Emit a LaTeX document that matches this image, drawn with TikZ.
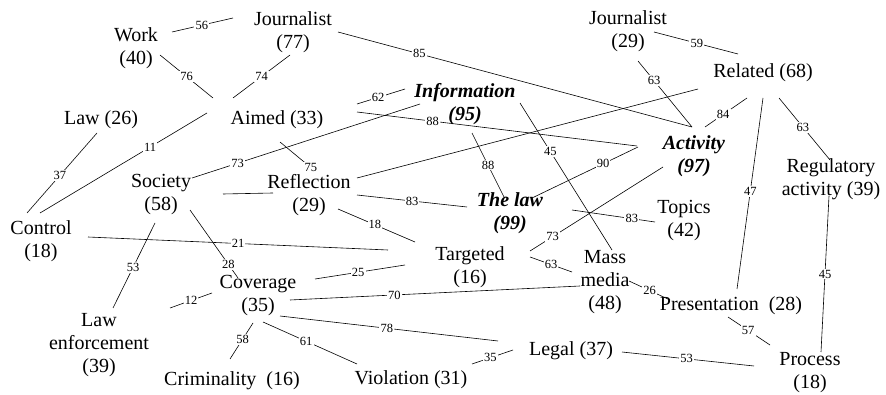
\documentclass[tikz,border=0pt]{standalone}
\usepackage{fontspec}
\setmainfont{Liberation Serif}
\usetikzlibrary{calc}
\tikzset{
  term/.style={font=\fontsize{20}{23}\selectfont, align=center, inner sep=0pt},
  hot/.style={term, font=\fontsize{20}{23}\selectfont\bfseries\itshape},
  lbl/.style={font=\fontsize{12.5}{13}\selectfont, fill=white, inner sep=1.2pt},
  link/.style={line width=0.6pt}
}
\begin{document}
\begin{tikzpicture}[x=1pt,y=-1pt]
\useasboundingbox (0,0) rectangle (886,395);
% nodes
\node[term] (work) at (136,48) {Work\\(40)};
\node[term] (jour77) at (293,32) {Journalist\\(77)};
\node[term] (law26) at (101,120) {Law (26)};
\node[term] (aimed) at (277,120) {Aimed (33)};
\node[hot] (info) at (465,104) {Information\\(95)};
\node[term] (jour29) at (628,31) {Journalist\\(29)};
\node[term] (related) at (763,73) {Related (68)};
\node[hot] (activity) at (694,156) {Activity\\(97)};
\node[term] (regul) at (831,179) {Regulatory\\activity (39)};
\node[term] (society) at (161,195) {Society\\(58)};
\node[term] (reflection) at (309,195) {Reflection\\(29)};
\node[hot] (thelaw) at (510,213) {The law\\(99)};
\node[term] (topics) at (684,221) {Topics\\(42)};
\node[term] (control) at (41,241) {Control\\(18)};
\node[term] (targeted) at (470,267) {Targeted\\(16)};
\node[term] (mass) at (605,282) {Mass\\media\\(48)};
\node[term] (coverage) at (258,296) {Coverage\\(35)};
\node[term] (present) at (731,306) {Presentation\ \ (28)};
\node[term] (lawenf) at (99,345) {Law\\enforcement\\(39)};
\node[term] (crimin) at (232,381) {Criminality\ \ (16)};
\node[term] (violation) at (411,380) {Violation (31)};
\node[term] (legal) at (571,351) {Legal (37)};
\node[term] (process) at (810,373) {Process\\(18)};
% connectors
\draw[link] ($(work)+(36,-16)$) -- node[lbl,pos=.49]{56} ($(jour77)+(-60,-14)$);
\draw[link] ($(work)+(24,7)$) -- node[lbl,pos=.5]{76} ($(aimed)+(-64,-22)$);
\draw[link] ($(jour77)+(-3,23)$) -- node[lbl,pos=.5]{74} ($(aimed)+(-44,-22)$);
\draw[link] ($(jour77)+(45,0)$) -- node[lbl,pos=.23]{85} ($(activity)+(-2,-29)$);
\draw[link] ($(aimed)+(80,-16)$) -- node[lbl,pos=.44]{62} ($(info)+(-60,-15)$);
\draw[link] ($(aimed)+(80,-8)$) -- node[lbl,pos=.27]{88} ($(activity)+(-57,-10)$);
\draw[link] ($(society)+(31,-17)$) -- node[lbl,pos=.2]{73} ($(info)+(-45,0)$);
\draw[link] ($(aimed)+(3,22)$) -- node[lbl,pos=.88]{75} ($(reflection)+(6,-24)$);
\draw[link] ($(law26)+(-4,13)$) -- node[lbl,pos=.53]{37} ($(control)+(-14,-28)$);
\draw[link] ($(aimed)+(-70,-7)$) -- node[lbl,pos=.34]{11} ($(control)+(-1,-28)$);
\draw[link] ($(society)+(62,-1)$) -- ($(reflection)+(-36,-2)$);
\draw[link] ($(reflection)+(48,-17)$) -- ($(related)+(-65,16)$);
\draw[link] ($(reflection)+(48,0)$) -- node[lbl,pos=.5]{83} ($(thelaw)+(-43,-6)$);
\draw[link] ($(reflection)+(29,14)$) -- node[lbl,pos=.48]{18} ($(targeted)+(-55,-25)$);
\draw[link] ($(info)+(7,29)$) -- node[lbl,pos=.5]{88} ($(thelaw)+(-6,-16)$);
\draw[link] ($(info)+(55,-1)$) -- node[lbl,pos=.33]{45} ($(mass)+(7,-32)$);
\draw[link] ($(thelaw)+(22,-15)$) -- node[lbl,pos=.67]{90} ($(activity)+(-56,-9)$);
\draw[link] ($(control)+(47,-4)$) -- node[lbl,pos=.5]{21} ($(targeted)+(-82,-17)$);
\draw[link] ($(society)+(-6,28)$) -- node[lbl,pos=.52]{53} ($(lawenf)+(14,-37)$);
\draw[link] ($(society)+(29,15)$) -- node[lbl,pos=.8]{28} ($(coverage)+(-20,-18)$);
\draw[link] ($(targeted)+(-65,-2)$) -- node[lbl,pos=.52]{25} ($(coverage)+(57,-17)$);
\draw[link] ($(coverage)+(-46,-3)$) -- node[lbl,pos=.5]{12} ($(lawenf)+(71,-37)$);
\draw[link] ($(coverage)+(32,4)$) -- node[lbl,pos=.36]{70} ($(mass)+(-25,4)$);
\draw[link] ($(coverage)+(22,20)$) -- node[lbl,pos=.49]{78} ($(legal)+(-73,-10)$);
\draw[link] ($(coverage)+(-5,27)$) -- node[lbl,pos=.45]{58} ($(crimin)+(-2,-22)$);
\draw[link] ($(coverage)+(5,26)$) -- node[lbl,pos=.46]{61} ($(violation)+(-54,-16)$);
\draw[link] ($(violation)+(61,-16)$) -- node[lbl,pos=.45]{35} ($(legal)+(-58,-1)$);
\draw[link] ($(legal)+(51,1)$) -- node[lbl,pos=.49]{53} ($(process)+(-56,-7)$);
\draw[link] ($(targeted)+(60,-16)$) -- node[lbl,pos=.17]{73} ($(activity)+(-31,11)$);
\draw[link] ($(targeted)+(60,-10)$) -- node[lbl,pos=.5]{63} ($(mass)+(-33,-10)$);
\draw[link] ($(thelaw)+(62,-3)$) -- node[lbl,pos=.72]{83} ($(topics)+(-29,1)$);
\draw[link] ($(mass)+(24,-1)$) -- node[lbl,pos=.5]{26} ($(present)+(-61,-6)$);
\draw[link] ($(related)+(0,25)$) -- node[lbl,pos=.49]{47} ($(present)+(6,-17)$);
\draw[link] ($(related)+(16,25)$) -- node[lbl,pos=.47]{63} ($(regul)+(-1,-19)$);
\draw[link] ($(regul)+(-2,17)$) -- node[lbl,pos=.5]{45} ($(process)+(11,-21)$);
\draw[link] ($(present)+(-3,11)$) -- node[lbl,pos=.48]{57} ($(process)+(-40,-28)$);
\draw[link] ($(jour29)+(26,1)$) -- node[lbl,pos=.51]{59} ($(related)+(-25,-19)$);
\draw[link] ($(jour29)+(10,30)$) -- node[lbl,pos=.3]{63} ($(activity)+(-2,-29)$);
\draw[link] ($(related)+(-16,25)$) -- node[lbl,pos=.57]{84} ($(activity)+(11,-29)$);
\end{tikzpicture}
\end{document}
